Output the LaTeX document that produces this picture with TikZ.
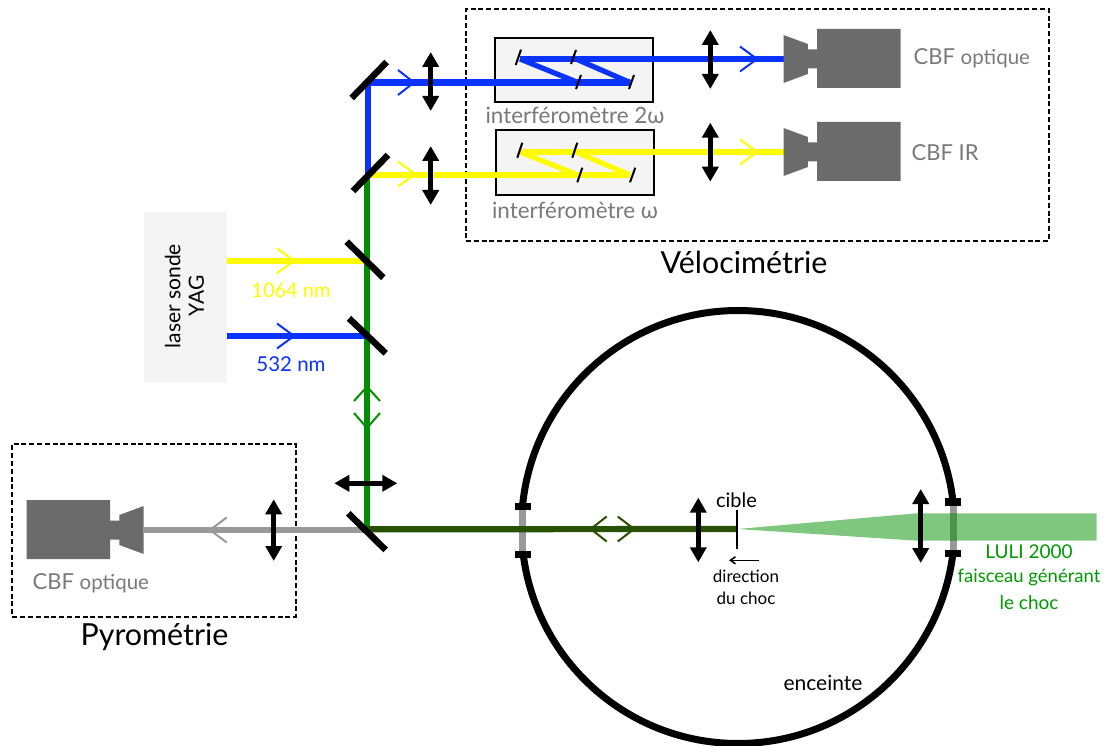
\documentclass[tikz,border=0pt]{standalone}
\usepackage{fontspec}
\setmainfont{Lato}
\usetikzlibrary{arrows.meta}
\definecolor{bblue}{HTML}{0A33FF}
\definecolor{byellow}{HTML}{FFFB00}
\definecolor{bgreen}{HTML}{008F00}
\definecolor{bdark}{HTML}{275100}
\definecolor{bgray}{HTML}{999999}
\definecolor{camgray}{HTML}{6B6B6B}
\definecolor{txtgray}{HTML}{797979}
\definecolor{panel}{HTML}{F4F4F4}
\newcommand{\fs}[1]{\fontsize{#1}{#1}\selectfont}
\tikzset{
  beam/.style={line width=6.2pt},
  sbeam/.style={line width=5.2pt},
  mirror/.style={line width=6.5pt,black},
  smirror/.style={line width=2pt,black},
  chev/.style={line width=2pt,line join=miter,miter limit=10},
  lens/.style={line width=5pt,black,{Triangle[length=15pt,width=16pt]}-{Triangle[length=15pt,width=16pt]}},
  framebox/.style={draw=black,line width=2pt,dash pattern=on 5pt off 2.8pt},
  interf/.style={draw=black,line width=2pt,fill=panel},
  lbl/.style={inner sep=0pt,align=center},
  pics/cam/.style={code={
    \fill[camgray] (0,-24) -- (24.4,-15) -- (24.4,-9.5) -- (33.7,-9.5) -- (33.7,-30) -- (117,-30) -- (117,29) -- (33.7,29) -- (33.7,9.5) -- (24.4,9.5) -- (24.4,15) -- (0,24) -- cycle;
  }},
}
\newcommand{\chv}[4]{\draw[chev,#4] (#2,#3+12.5) -- (#1,#3) -- (#2,#3-12.5);}
\begin{document}
\begin{tikzpicture}[x=1pt,y=-1pt]
\useasboundingbox (0,0) rectangle (1104,746);
% panels
\node[fill=panel,minimum width=82.7pt,minimum height=170.7pt,inner sep=0pt] (laser) at (185.4,297.3) {};
\node[interf,minimum width=158pt,minimum height=64pt,inner sep=0pt] (if2) at (573.6,70) {};
\node[interf,minimum width=158.5pt,minimum height=64.5pt,inner sep=0pt] (if1) at (575.2,162.7) {};
\node[framebox,minimum width=583pt,minimum height=232pt,inner sep=0pt] (velo) at (757.5,125) {};
\node[framebox,minimum width=283.4pt,minimum height=172.7pt,inner sep=0pt] (pyro) at (154,530.3) {};
% enclosure
\node[draw=black,line width=7pt,circle,minimum size=433pt,inner sep=0pt] (enc) at (738,527) {};
\fill[white] (512,509) rectangle (533,552);
\fill[white] (943,505) rectangle (964,550);
% LULI beam
\coordinate (tip) at (737.5,529);
\fill[bgreen,opacity=.5] (tip) -- (917,513.3) -- (1096.7,513.3) -- (1096.7,540.7) -- (917,540.7) -- cycle;
% coordinates
\coordinate (a1) at (368.3,82.5);
\coordinate (a2) at (368.3,175);
\coordinate (a3) at (367,529.5);
\coordinate (y1) at (227,260.7);
\coordinate (y2) at (367,260.7);
\coordinate (b1) at (227,336.3);
\coordinate (b2) at (367,336.3);
\coordinate (u1) at (630,82.5);
\coordinate (u2) at (576,59);
\coordinate (u3) at (578,82.5);
\coordinate (u4) at (520,59);
\coordinate (ucam) at (783.5,59);
\coordinate (w1) at (630,175);
\coordinate (w2) at (576,152);
\coordinate (w3) at (578,175);
\coordinate (w4) at (520,152);
\coordinate (wcam) at (783.5,152);
\coordinate (gcam) at (143.7,530);
% gray segments through the ports
\draw[line width=7pt,bgray] (522.7,506) -- (522.7,555);
\draw[line width=7pt,bgray] (953.3,502) -- (953.3,553);
\fill[bgreen,opacity=.5] (949.8,513.3) rectangle (956.8,540.7);
% beams
\draw[beam,bgreen] (367,175) -- (a3);
\draw[beam,bblue] (368.3,178) -- (a1) -- (u1);
\draw[sbeam,bblue] (u1) -- (u2);
\draw[sbeam,bblue] (u3) -- (u4);
\draw[beam,bblue] (u4) -- (ucam);
\draw[beam,byellow] (a2) -- (w1);
\draw[sbeam,byellow] (w1) -- (w2);
\draw[sbeam,byellow] (w3) -- (w4);
\draw[beam,byellow] (w4) -- (wcam);
\draw[beam,byellow] (y1) -- (y2);
\draw[beam,bblue] (b1) -- (b2);
\draw[beam,bgray] (gcam) -- (365,530);
\draw[beam,bdark] (365,529.3) -- (tip);
% chevrons
\chv{414}{398}{82.5}{bblue}
\chv{415}{398}{174}{byellow}
\chv{757}{740}{59}{bblue}
\chv{757}{740}{152}{byellow}
\chv{294}{277}{260.7}{byellow}
\chv{294}{277}{336}{bblue}
\chv{210}{226.7}{530}{bgray}
\chv{590.7}{606.7}{529}{bdark}
\chv{634}{617.7}{529}{bdark}
\draw[chev,bgreen] (354,401) -- (367,386.7) -- (380,401);
\draw[chev,bgreen] (354,413) -- (367,428) -- (380,413);
% mirrors
\coordinate (m1a) at (351.7,98);   \coordinate (m1b) at (386.7,62);
\coordinate (m2a) at (353,191);    \coordinate (m2b) at (388,155);
\coordinate (m3a) at (346.7,241.7);\coordinate (m3b) at (383.3,277.7);
\coordinate (m4a) at (349,318.3);  \coordinate (m4b) at (385.7,353.3);
\coordinate (m5a) at (348.3,513.3);\coordinate (m5b) at (385.7,550);
\foreach \n in {1,...,5} \draw[mirror] (m\n a) -- (m\n b);
% small mirrors
\draw[smirror] (515.7,65) -- (521,49.7);
\draw[smirror] (571,64) -- (576,50);
\draw[smirror] (576,89) -- (581,75);
\draw[smirror] (629,89) -- (634,75);
\draw[smirror] (517.3,157.7) -- (522.3,142.7);
\draw[smirror] (572.3,157.7) -- (577.3,142.7);
\draw[smirror] (577.3,182.3) -- (582.3,167.7);
\draw[smirror] (630,182.3) -- (635.3,167.7);
% lenses
\draw[lens] (430.7,52) -- (430.7,111);
\draw[lens] (430.7,146) -- (430.7,205);
\draw[lens] (710.3,30) -- (710.3,89);
\draw[lens] (710.3,122.7) -- (710.3,181.7);
\draw[lens] (273.7,499.3) -- (273.7,561);
\draw[lens] (334.3,483.3) -- (397.3,483.3);
\draw[lens] (698.3,497.7) -- (698.3,562.3);
\draw[lens] (920.7,489) -- (920.7,563);
% cameras
\pic at (ucam) {cam};
\pic at (wcam) {cam};
\pic[xscale=-1] at (gcam) {cam};
% ports
\fill[black] (515,502.5) rectangle (531,509.5);
\fill[black] (515,551) rectangle (531,558);
\fill[black] (945.3,498) rectangle (961.3,505.5);
\fill[black] (945.3,549.5) rectangle (961.3,557);
% target
\coordinate (c1) at (737.3,510);
\coordinate (c2) at (737.3,549);
\draw[line width=2pt] (c1) -- (c2);
\coordinate (s1) at (758.7,560.3);
\coordinate (s2) at (729,560.3);
\draw[line width=1.6pt,-{Straight Barb[length=5pt,width=7pt]}] (s1) -- (s2);
% labels
\node[lbl,rotate=90,text=black] (tlaser) at (187.5,296) {\fs{21}\begin{tabular}{@{}c@{}}laser sonde\\[2pt]\fs{21}YAG\end{tabular}};
\node[lbl,text=byellow] (t1064) at (291,290) {\fs{20}1064 nm};
\node[lbl,text=bblue] (t532) at (291,364) {\fs{20.5}532 nm};
\node[lbl,text=txtgray] (ti2) at (575,115.5) {\fs{22.4}interféromètre 2ω};
\node[lbl,text=txtgray] (ti1) at (575,210.5) {\fs{22.4}interféromètre ω};
\node[lbl,text=txtgray,anchor=west] (tc1) at (913.5,58) {\fs{22}CBF \fs{20.5}optique};
\node[lbl,text=txtgray,anchor=west] (tc2) at (911.5,153) {\fs{22}CBF IR};
\node[lbl,text=txtgray,anchor=west] (tc3) at (32.5,583) {\fs{22}CBF \fs{20.5}optique};
\node[lbl,text=black] (tv) at (744,262) {\fs{30.4}Vélocimétrie};
\node[lbl,text=black] (tp) at (154.5,637) {\fs{30.4}Pyrométrie};
\node[lbl,text=black] (tcible) at (736.5,500) {\fs{20}cible};
\node[lbl,text=black] (tdir) at (746,576) {\fs{17}direction};
\node[lbl,text=black] (tdu) at (746,598.5) {\fs{17}du choc};
\node[lbl,text=black] (tenc) at (823,683) {\fs{21}enceinte};
\node[lbl,text=bgreen!90!green] (tl1) at (1029,552) {\fs{19}LULI 2000};
\node[lbl,text=bgreen!90!green] (tl2) at (1029,577) {\fs{18.5}faisceau générant};
\node[lbl,text=bgreen!90!green] (tl3) at (1029,603) {\fs{19}le choc};
\end{tikzpicture}
\end{document}
